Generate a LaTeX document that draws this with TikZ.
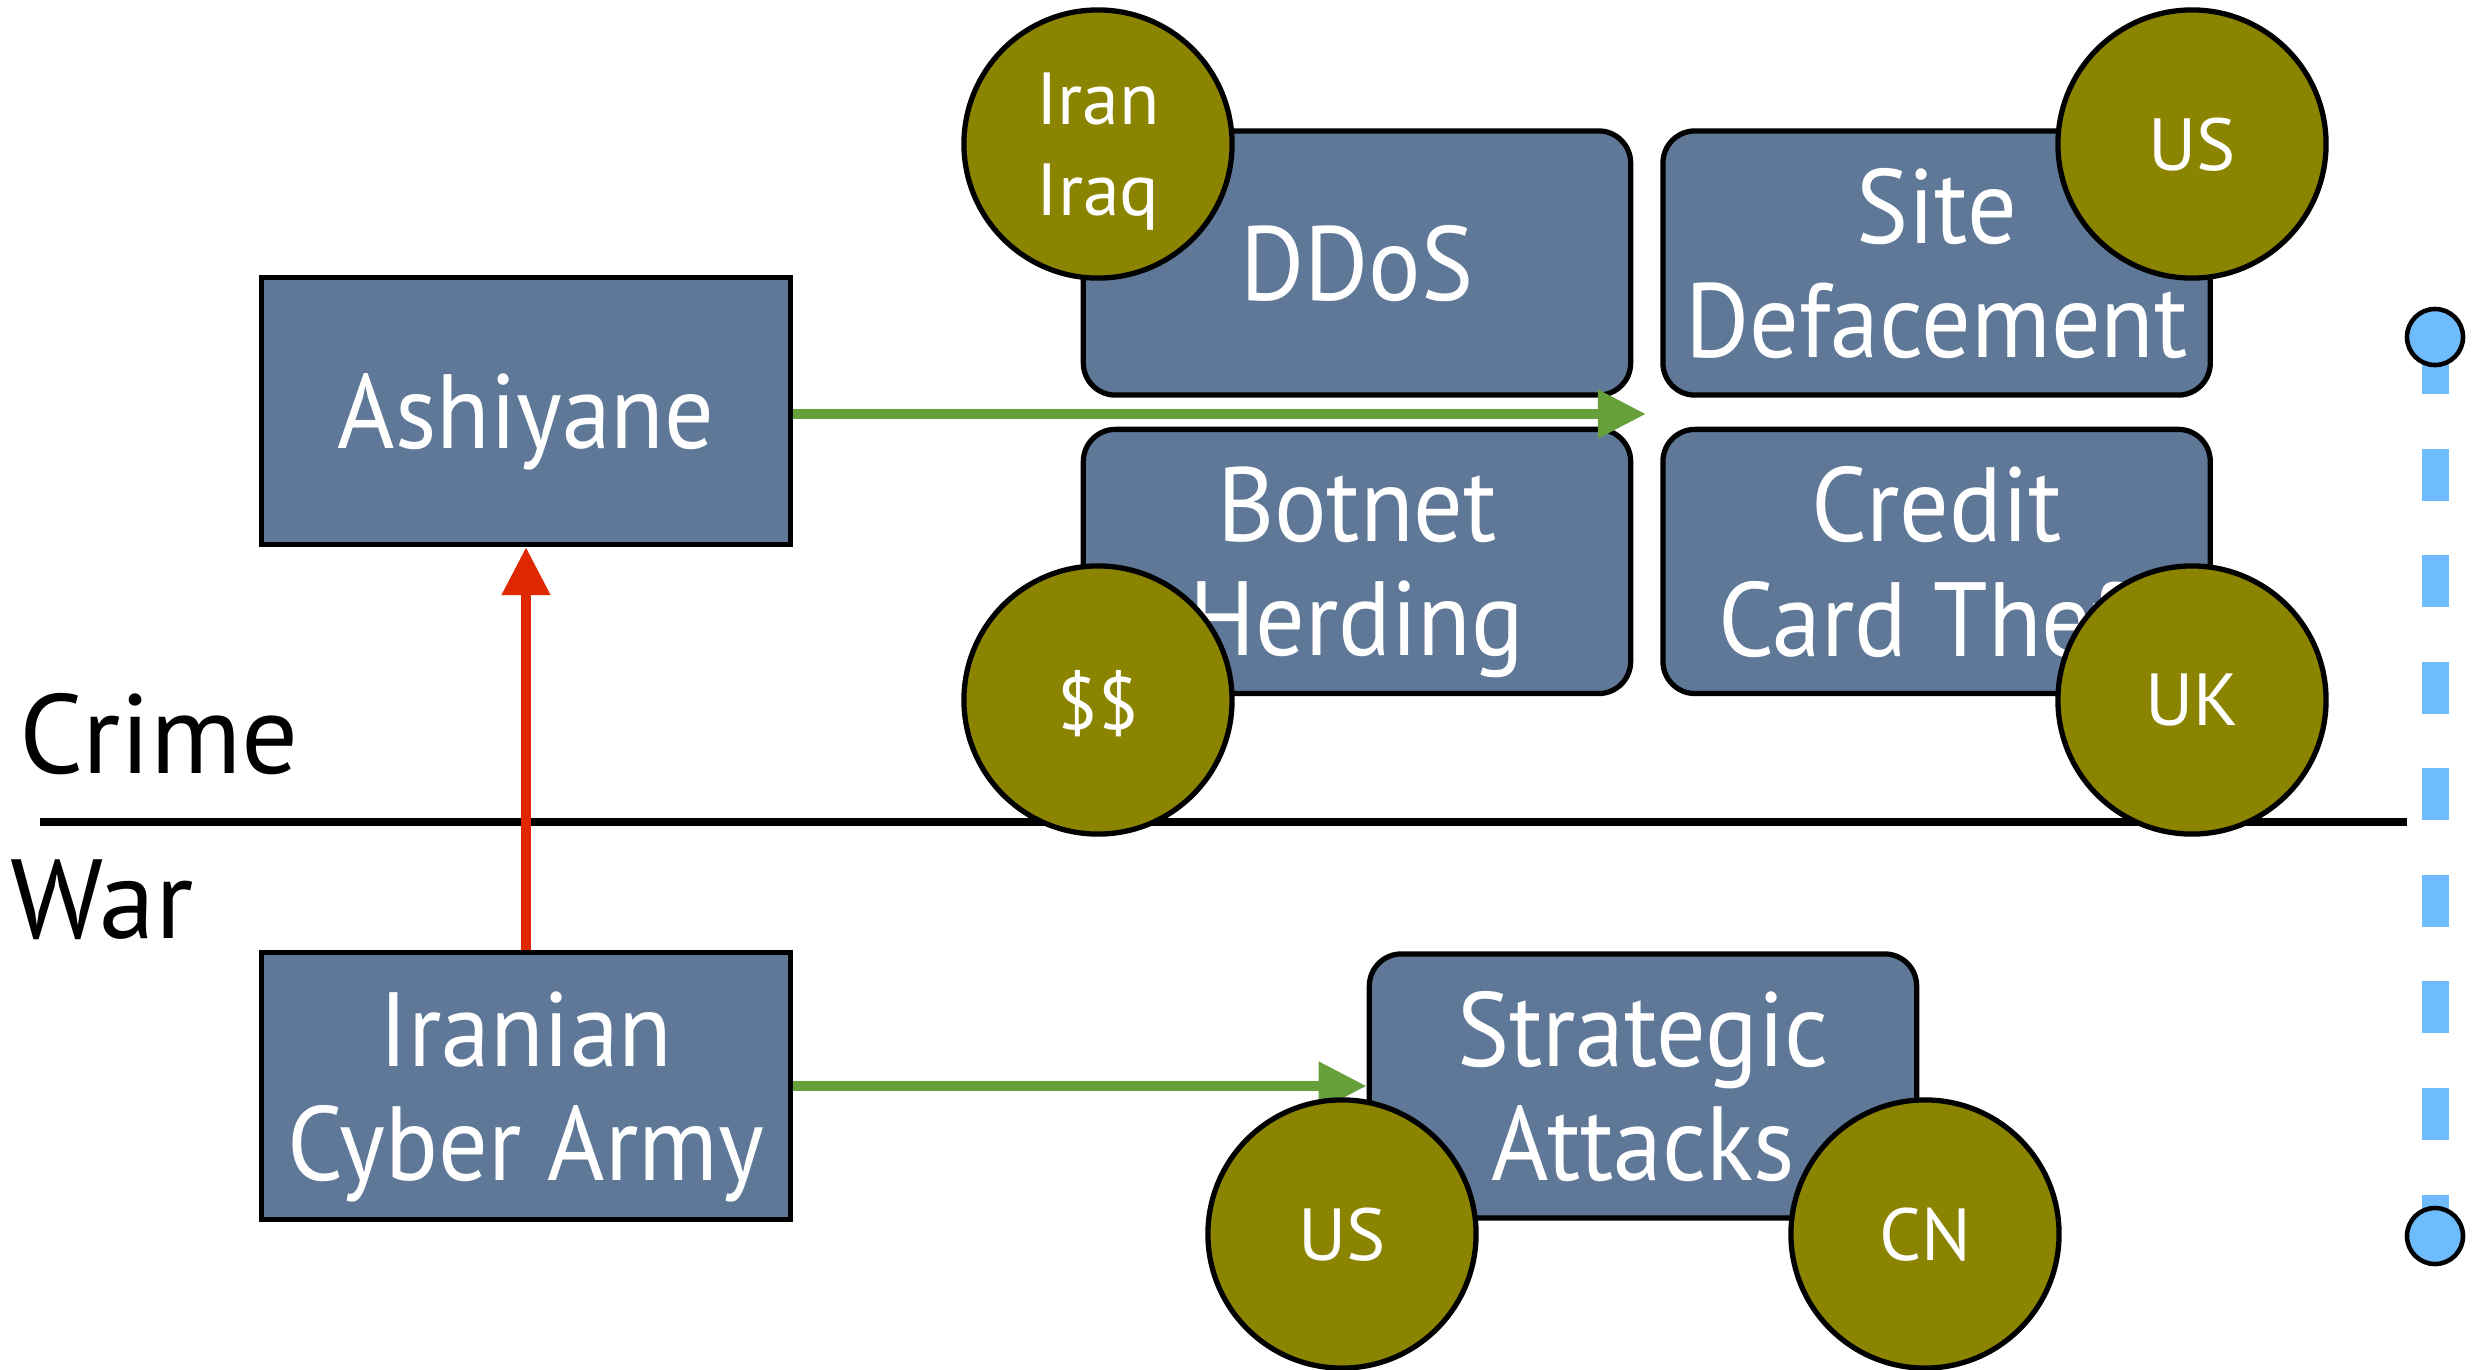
\documentclass[tikz,border=0pt]{standalone}
\usepackage{fontspec}
\setmainfont{PT Sans}
\newfontfamily\boxfont[FakeStretch=0.93]{PT Sans}
\usetikzlibrary{positioning,arrows.meta,backgrounds}
\definecolor{slate}{HTML}{5F7898}
\definecolor{badge}{HTML}{8B8400}
\definecolor{dotblue}{HTML}{6FBCFC}
\definecolor{flowgreen}{HTML}{67A03A}
\definecolor{flowred}{HTML}{E02800}

\begin{document}
\begin{tikzpicture}[
  x=0.01cm, y=-0.01cm,
  font=\boxfont\fontsize{30}{32.5}\selectfont,
  box/.style={draw, fill=slate, text=white, line width=1.4pt, align=center,
              inner sep=0pt, text depth=0pt, minimum width=5.29cm, minimum height=2.67cm},
  tile/.style={box, line width=1.5pt, rounded corners=0.32cm,
               minimum width=5.47cm, minimum height=2.64cm},
  flag/.style={circle, draw, fill=badge, text=white, line width=1.5pt, align=center,
               inner sep=0pt, text depth=0pt, minimum size=2.68cm,
               font=\fontsize{21}{26}\selectfont},
  dot/.style={circle, draw, fill=dotblue, line width=1.3pt, inner sep=0pt, minimum size=0.56cm},
  arr/.style={line width=3pt, -{Triangle[length=0.48cm, width=0.46cm]}},
  lbl/.style={font=\fontsize{32}{34}\selectfont, anchor=base west, inner sep=0pt}
]
\useasboundingbox (0,0) rectangle (2478,1369);

% Actor boxes on the left.
\node[box] (ashiyane) at (526,411) {Ashiyane};
\node[box] (icarmy) at (526,1086) {Iranian\\Cyber Army};

% Crime activities, two by two.
\node[tile] (ddos) at (1357,263) {DDoS};
\node[tile, right=0.27cm of ddos] (deface) {Site\\Defacement};
\node[tile, below=0.29cm of ddos] (botnet) {Botnet\\Herding};
\node[tile, below=0.29cm of deface] (card) {Credit\\Card Theft};

% War activity.
\node[tile] (strat) at (1643,1086) {Strategic\\Attacks};

% Crime / War divider.
\node[lbl] (crime) at (19,773) {Crime};
\node[lbl] (war) at (10,938) {War};
\coordinate (divl) at (40,822);
\coordinate (divr) at (2407,822);
\draw[line width=2.2pt] (divl) -- (divr);

% Flow arrows.
\coordinate (gap) at (1646,414);
\draw[arr, flowgreen] (ashiyane.east |- gap) -- (gap);
\draw[arr, flowgreen] (icarmy.east) -- (strat.west);
\draw[arr, flowred] (icarmy.north) -- (ashiyane.south);

% Country / money badges.
\node[flag] (iran) at (1098,144) {Iran\\Iraq};
\node[flag] (ustop) at (2192,144) {US};
\node[flag] (money) at (1098,700) {\$\$};
\node[flag] (uk) at (2192,700) {UK};
\node[flag] (usbot) at (1342,1234) {US};
\node[flag] (cn) at (1925,1234) {CN};

% Dashed timeline on the right.
\node[dot] (dtop) at (2435,337) {};
\node[dot] (dbot) at (2435,1236) {};
\begin{scope}[on background layer]
  \draw[dotblue, line width=0.27cm, dash pattern=on 0.52cm off 0.545cm, dash phase=1.015cm]
    (dtop.center) -- (dbot.center);
\end{scope}
\end{tikzpicture}
\end{document}
